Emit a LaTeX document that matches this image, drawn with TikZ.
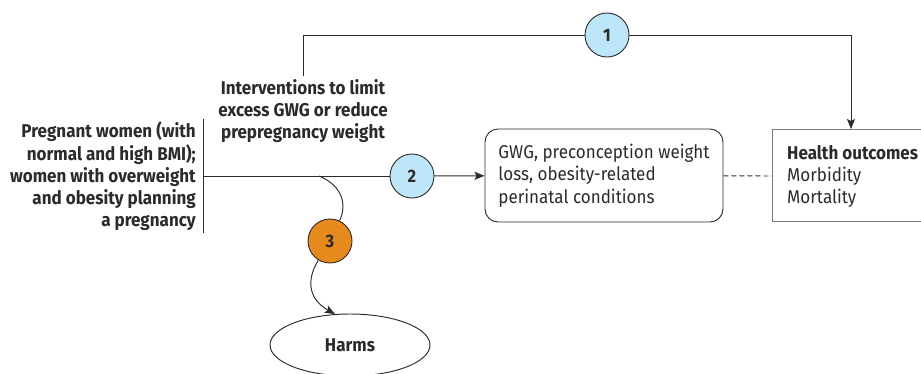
\documentclass[tikz,border=0pt]{standalone}
\usepackage{fontspec}
\setmainfont[FakeStretch=0.92]{Fira Sans}
\usetikzlibrary{arrows.meta,shapes.geometric}
\definecolor{ink}{HTML}{2B2B2B}
\definecolor{lblue}{HTML}{BDE6F8}
\definecolor{orng}{HTML}{E68A1E}
\definecolor{boxgray}{HTML}{7A7A7A}
\begin{document}
\begin{tikzpicture}[x=1pt,y=-1pt,
  every node/.style={inner sep=0pt, text=ink},
  txt/.style={font=\fontsize{18.5}{22.3}\selectfont},
  btxt/.style={font=\fontsize{18.5}{22.3}\selectfont\bfseries},
  line/.style={draw=ink, line width=0.95pt},
  arr/.style={line, -{Stealth[length=10pt,width=8pt,inset=2pt]}},
  numcirc/.style={circle, draw=ink, line width=0.9pt, minimum size=44pt, font=\fontsize{18}{20}\selectfont\bfseries},
  gbox/.style={draw=ink, line width=0.95pt, rounded corners=13pt, minimum width=238pt, minimum height=93pt, align=left, font=\fontsize{18.5}{22.3}\selectfont}
]
\useasboundingbox (0,0) rectangle (921,373);

% population text and bar
\node[btxt, align=right, anchor=east] (pop) at (196,176.5)
  {Pregnant women (with\\normal and high BMI);\\women with overweight\\and obesity planning\\a pregnancy};
\coordinate (bartop) at (203,119);
\coordinate (barbot) at (203,233);
\coordinate (bar) at (203,176);
\draw[line] (bartop) -- (barbot);

% interventions
\node[btxt, align=center] (int) at (303,111)
  {Interventions to limit\\excess GWG or reduce\\prepregnancy weight};

% intermediate outcome box
\node[gbox] (gwg) at (604,175.5)
  {GWG, preconception weight\\loss, obesity-related\\perinatal conditions};

% health outcomes box
\node[txt, align=left, anchor=west] (ho) at (787,176.5)
  {\textbf{Health outcomes}\\Morbidity\\Mortality};
\draw[draw=boxgray, line width=0.95pt] (925,129) -- (772,129) -- (772,221) -- (925,221);
\coordinate (hotop) at (851,129);
\coordinate (holeft) at (772,176);

% circles
\node[numcirc, fill=lblue] (c1) at (607,35) {1};
\node[numcirc, fill=lblue] (c2) at (412,176) {2};
\node[numcirc, fill=orng] (c3) at (330,241) {3};

% harms
\node[ellipse, draw=ink, line width=0.95pt, minimum width=160pt, minimum height=62pt, btxt] (harms) at (350,345) {Harms};

% connectors
\coordinate (intup) at (303,76);
\draw[line] (intup) |- (c1);
\draw[arr] (c1) -| (hotop);
\draw[line] (bar) -- (c2);
\draw[arr] (c2) -- (gwg);
\draw[line, dashed, dash pattern=on 5pt off 3pt] (gwg) -- (holeft);
\coordinate (branch) at (319,176);
\draw[line] (branch) .. controls (343,186) and (347,205) .. (c3);
\draw[arr] (c3) .. controls (305,282) and (310,300) .. (harms.116);
\end{tikzpicture}
\end{document}
